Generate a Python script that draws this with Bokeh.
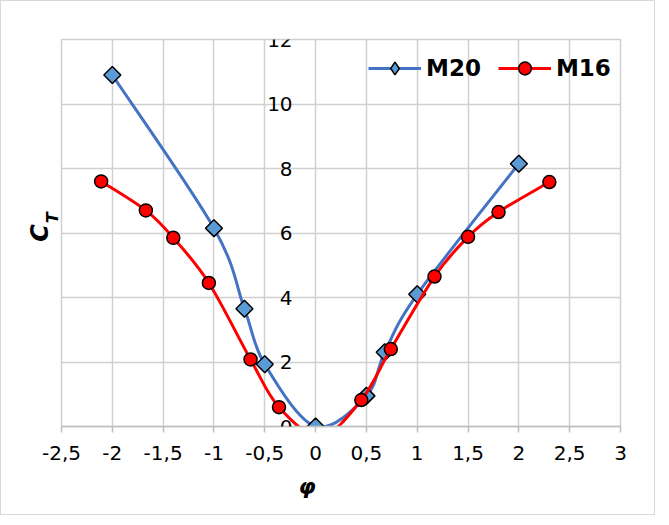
import numpy as np
from bokeh.plotting import figure
from bokeh.models import FixedTicker, Legend, LegendItem, LinearAxis, Title
from bokeh.embed import file_html
from bokeh.resources import INLINE

# ---- data ----
m20_x = [-2.0, -1.0, -0.7, -0.5, 0.0, 0.5, 0.68, 1.0, 2.0]
m20_y = [10.9, 6.15, 3.65, 1.93, 0.0, 0.95, 2.3, 4.1, 8.15]

m16_x = [-2.11, -1.67, -1.4, -1.05, -0.64, -0.36, 0.05, 0.45, 0.74, 1.17, 1.5, 1.8, 2.3]
m16_y = [7.6, 6.7, 5.85, 4.45, 2.08, 0.6, -0.3, 0.82, 2.4, 4.65, 5.88, 6.65, 7.58]

x_ticks = [-2.5, -2.0, -1.5, -1.0, -0.5, 0.0, 0.5, 1.0, 1.5, 2.0, 2.5, 3.0]
x_tick_labels = ["-2,5", "-2", "-1,5", "-1", "-0,5", "0", "0,5", "1", "1,5", "2", "2,5", "3"]
y_ticks = [0, 2, 4, 6, 8, 10, 12]

series_names = ["M20", "M16"]
x_title = "φ"
y_title_main = "C"
y_title_sub = "T"


def smooth_controls(xs, ys):
    """Excel-like smoothed line: cubic Bezier control points from neighbours."""
    x = np.asarray(xs, float)
    y = np.asarray(ys, float)
    n = len(x)
    xp = np.concatenate([[x[0]], x, [x[-1]]])
    yp = np.concatenate([[y[0]], y, [y[-1]]])
    cx0 = x[:-1] + (xp[2:n + 1] - xp[0:n - 1]) / 6.0
    cy0 = y[:-1] + (yp[2:n + 1] - yp[0:n - 1]) / 6.0
    cx1 = x[1:] - (xp[3:n + 2] - xp[1:n]) / 6.0
    cy1 = y[1:] - (yp[3:n + 2] - yp[1:n]) / 6.0
    return dict(x0=x[:-1], y0=y[:-1], x1=x[1:], y1=y[1:],
                cx0=cx0, cy0=cy0, cx1=cx1, cy1=cy1)


GRID = "#d0d0d0"
FONT = "DejaVu Sans"

p = figure(width=655, height=515, x_range=(-2.5, 3.0), y_range=(0, 12),
           output_backend="svg", toolbar_location=None,
           min_border_left=60, min_border_right=36,
           min_border_top=38, min_border_bottom=90)
p.styles = {"border": "1px solid #d9d9d9"}
p.background_fill_color = "white"
p.border_fill_color = "white"
p.outline_line_color = GRID
p.outline_line_width = 1.5

# x axis (at y = 0, bottom of the plot area)
xax = p.xaxis[0]
xax.ticker = FixedTicker(ticks=x_ticks)
xax.major_label_overrides = {t: l for t, l in zip(x_ticks, x_tick_labels)}
xax.axis_line_color = "#bfbfbf"
xax.axis_line_width = 1.5
xax.major_tick_line_color = "#bfbfbf"
xax.major_tick_line_width = 1.5
xax.major_tick_in = 0
xax.major_tick_out = 6
xax.minor_tick_line_color = None
xax.major_label_standoff = 13
xax.major_label_text_font = FONT
xax.major_label_text_font_size = "20px"
xax.major_label_text_color = "black"

# y axis crossing at x = 0
yax = p.yaxis[0]
yax.fixed_location = 0
yax.ticker = FixedTicker(ticks=y_ticks)
yax.axis_line_color = None
yax.major_tick_line_color = None
yax.minor_tick_line_color = None
yax.major_tick_out = 0
yax.major_tick_in = 0
yax.major_label_standoff = 23
yax.major_label_text_font = FONT
yax.major_label_text_font_size = "20px"
yax.major_label_text_color = "black"

# grids
p.xgrid.ticker = FixedTicker(ticks=x_ticks)
p.ygrid.ticker = FixedTicker(ticks=y_ticks)
p.xgrid.grid_line_color = GRID
p.ygrid.grid_line_color = GRID
p.xgrid.grid_line_width = 1.5
p.ygrid.grid_line_width = 1.5

# y title: "C" as axis label, subscript "T" as a single rotated tick label
sub_pos = 6.47
ytitle = LinearAxis(ticker=FixedTicker(ticks=[sub_pos]),
                    major_label_overrides={sub_pos: y_title_sub},
                    major_label_orientation="vertical",
                    major_label_text_font=FONT, major_label_text_font_style="bold italic",
                    major_label_text_font_size="16px", major_label_text_color="black",
                    major_label_standoff=-1,
                    axis_line_color=None, major_tick_line_color=None,
                    minor_tick_line_color=None, major_tick_out=0, major_tick_in=0,
                    axis_label=y_title_main, axis_label_standoff=-13,
                    axis_label_text_font=FONT, axis_label_text_font_style="bold italic",
                    axis_label_text_font_size="24px", axis_label_text_color="black")
p.add_layout(ytitle, "left")

# x title: phi, placed under the y axis
p.add_layout(Title(text=x_title, align="left", offset=237, vertical_align="top",
                   standoff=22, text_font=FONT, text_font_style="bold italic",
                   text_font_size="22px", text_color="black"), "below")

# series
blue_line = "#4472C4"
blue_fill = "#5B9BD5"
red = "#FF0000"

c20 = smooth_controls(m20_x, m20_y)
r20_line = p.bezier(x0=c20["x0"], y0=c20["y0"], x1=c20["x1"], y1=c20["y1"],
                    cx0=c20["cx0"], cy0=c20["cy0"], cx1=c20["cx1"], cy1=c20["cy1"],
                    line_color=blue_line, line_width=3)
r20_pts = p.scatter(m20_x, m20_y, marker="square", angle=np.pi / 4, size=12,
                    fill_color=blue_fill, line_color="black", line_width=1.5)

c16 = smooth_controls(m16_x, m16_y)
r16_line = p.bezier(x0=c16["x0"], y0=c16["y0"], x1=c16["x1"], y1=c16["y1"],
                    cx0=c16["cx0"], cy0=c16["cy0"], cx1=c16["cx1"], cy1=c16["cy1"],
                    line_color=red, line_width=3)
r16_pts = p.scatter(m16_x, m16_y, marker="circle", size=13,
                    fill_color=red, line_color="black", line_width=1.5)

# hidden diamond renderer used only for the legend key (legend keys are drawn unrotated)
r20_key = p.scatter(m20_x, m20_y, marker="diamond", fill_color=blue_fill,
                    line_color="black", line_width=1.5, visible=False)

legend = Legend(items=[LegendItem(label=series_names[0], renderers=[r20_line, r20_key]),
                       LegendItem(label=series_names[1], renderers=[r16_line, r16_pts])],
                orientation="horizontal", location=(307, 342),
                padding=0, margin=0, spacing=17, glyph_width=53, glyph_height=32,
                label_standoff=5, label_text_font=FONT, label_text_font_size="23px",
                label_text_font_style="bold", label_text_color="black",
                background_fill_alpha=0, border_line_alpha=0)
p.add_layout(legend)

open("out.html", "w").write(file_html(p, INLINE))
